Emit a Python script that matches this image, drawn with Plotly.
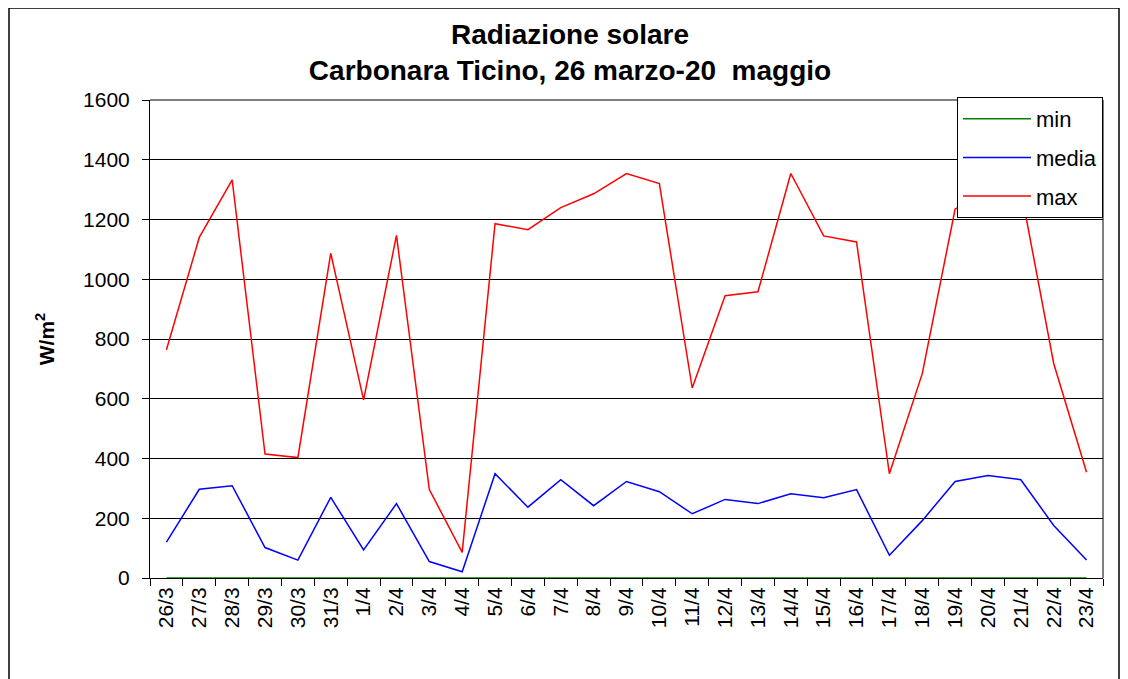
import plotly.graph_objects as go

categories = ["26/3", "27/3", "28/3", "29/3", "30/3", "31/3", "1/4", "2/4", "3/4", "4/4",
              "5/4", "6/4", "7/4", "8/4", "9/4", "10/4", "11/4", "12/4", "13/4", "14/4",
              "15/4", "16/4", "17/4", "18/4", "19/4", "20/4", "21/4", "22/4", "23/4"]
min_vals = [0] * 29
media_vals = [120, 297, 309, 102, 60, 270, 94, 249, 55, 21,
              349, 237, 329, 242, 323, 289, 215, 263, 249, 282,
              269, 296, 76, 192, 323, 343, 329, 176, 60]
max_vals = [764, 1140, 1333, 415, 403, 1087, 596, 1147, 296, 86,
            1186, 1166, 1240, 1286, 1354, 1320, 636, 945, 958, 1354,
            1145, 1125, 349, 684, 1235, 1290, 1300, 718, 354]
y_ticks = [0, 200, 400, 600, 800, 1000, 1200, 1400, 1600]

W, H = 1128, 679
OFF = 8  # page body margin offset
# desired page coords of plot area: left 150, right 1103, top 100, bottom 578
L = 150 - OFF
R = W - (1103 - OFF)
T = 100 - OFF
B = H - (578 - OFF)

fig = go.Figure()
fig.add_trace(go.Scatter(x=categories, y=min_vals, mode="lines", name="min",
                         legendgroup="g1", line=dict(color="#008000", width=1.5)))
fig.add_trace(go.Scatter(x=categories, y=media_vals, mode="lines", name="media",
                         legendgroup="g2", line=dict(color="#0000FF", width=1.5)))
fig.add_trace(go.Scatter(x=categories, y=max_vals, mode="lines", name="max",
                         legendgroup="g3", line=dict(color="#FF0000", width=1.5)))

pw = W - L - R
ph = H - T - B
def px(x):  # page x -> paper
    return (x - OFF - L) / pw
def py(y):  # page y -> paper
    return (H - B - (y - OFF)) / ph

fig.update_layout(
    width=W, height=H,
    margin=dict(l=L, r=R, t=T, b=B),
    paper_bgcolor="white", plot_bgcolor="white",
    font=dict(family="Liberation Sans, Arial, sans-serif", color="black"),
    title=dict(text="<b>Radiazione solare<br>Carbonara Ticino, 26 marzo-20  maggio</b>",
               x=(570 - OFF) / W, xanchor="center", y=1 - (52 - 2 * OFF) / H, yanchor="middle",
               xref="container", yref="container",
               font=dict(size=28, color="black")),
    xaxis=dict(type="category", range=[-0.5, 28.5], tickangle=-90,
               tickson="boundaries", ticks="outside", ticklen=7, tickcolor="black",
               showline=True, linecolor="black", linewidth=1, mirror=False,
               showgrid=False, tickfont=dict(size=21), zeroline=False),
    yaxis=dict(range=[0, 1600], tickvals=y_ticks, ticks="outside", ticklen=7,
               tickcolor="black", showline=True, linecolor="black", linewidth=1,
               showgrid=True, gridcolor="black", gridwidth=1, zeroline=False,
               tickfont=dict(size=21), ticklabelstandoff=8,
               title=dict(text="<b>W/m<sup>2</sup></b>", font=dict(size=21), standoff=22)),
    legend=dict(x=px(957), y=py(97), xanchor="left", yanchor="top",
                bordercolor="black", borderwidth=1, bgcolor="white",
                font=dict(size=22), tracegroupgap=7, itemwidth=68),
    showlegend=True,
    shapes=[
        dict(type="line", xref="paper", yref="paper", x0=1, x1=1, y0=0, y1=1,
             line=dict(color="black", width=1)),
        dict(type="line", xref="paper", yref="paper", x0=0, x1=1, y0=1, y1=1,
             line=dict(color="black", width=1)),
        dict(type="line", xref="paper", yref="paper", x0=px(1119), x1=px(1119),
             y0=py(700), y1=py(8), line=dict(color="black", width=1.5)),
        dict(type="line", xref="paper", yref="paper", x0=px(9), x1=px(1119),
             y0=py(8), y1=py(8), line=dict(color="black", width=1.5)),
        dict(type="line", xref="paper", yref="paper", x0=px(9), x1=px(9),
             y0=py(700), y1=py(8), line=dict(color="black", width=1.5)),
    ],
)

fig.write_html("out.html")
